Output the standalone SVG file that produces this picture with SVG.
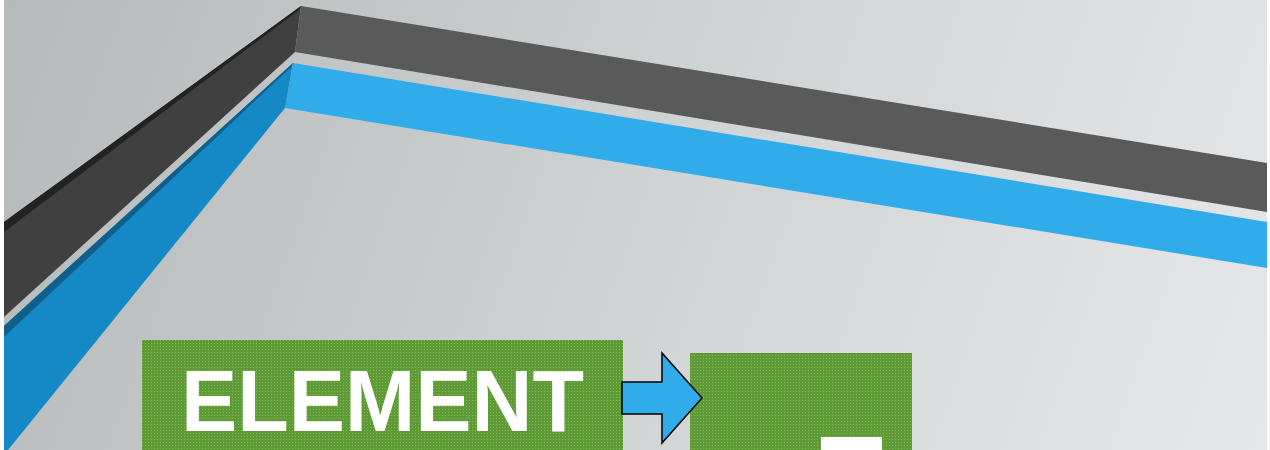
<svg xmlns="http://www.w3.org/2000/svg" width="1270" height="450" viewBox="0 0 1270 450">
<defs>
<linearGradient id="bg" x1="0" y1="0" x2="1270" y2="450" gradientUnits="userSpaceOnUse">
<stop offset="0" stop-color="#b5b9ba"/>
<stop offset="0.55" stop-color="#d2d5d6"/>
<stop offset="1" stop-color="#e6e7e8"/>
</linearGradient>
<pattern id="dots" width="3" height="3" patternUnits="userSpaceOnUse">
<rect width="3" height="3" fill="#5f9b35"/>
<rect x="1" y="1" width="1" height="1" fill="#86b560"/>
</pattern>
<style>
.box{fill:url(#dots);}
.lbl{font-family:"Liberation Sans",Arial,sans-serif;font-weight:bold;fill:#ffffff;}
.arrow{fill:#31acea;stroke:#000000;stroke-width:1.5;stroke-linejoin:miter;}
</style>
</defs>
<rect x="0" y="0" width="1270" height="450" fill="#ffffff"/>
<rect x="4" y="0" width="1263" height="450" fill="url(#bg)"/>
<g id="frame">
<polygon points="301,6 1267,163 1267,212 295,52" fill="#5a5a5a"/>
<polygon points="301,6 295,52 4,317 4,222" fill="#404040"/>
<polygon points="301,6 4,222 4,232 299,10" fill="#232323"/>
<polygon points="293,63 1267,222 1267,268 285,108" fill="#31acea"/>
<polygon points="293,63 285,108 8,450 4,450 4,326" fill="#1589c5"/>
<polygon points="293,63 4,326 4,337 291,67" fill="#0e5f8a"/>
</g>
<g id="node-element">
<rect class="box" x="142" y="340" width="481" height="110"/>
<text class="lbl" x="181" y="431" font-size="87" textLength="403" lengthAdjust="spacingAndGlyphs">ELEMENT</text>
</g>
<g id="node-target">
<rect class="box" x="690" y="353" width="222" height="97"/>
<rect x="821" y="437" width="61" height="13" fill="#ffffff"/>
</g>
<g id="connectors">
<polygon class="arrow" points="622,382 662,382 662,353 702,398 662,443 662,414 622,414"/>
</g>
</svg>
